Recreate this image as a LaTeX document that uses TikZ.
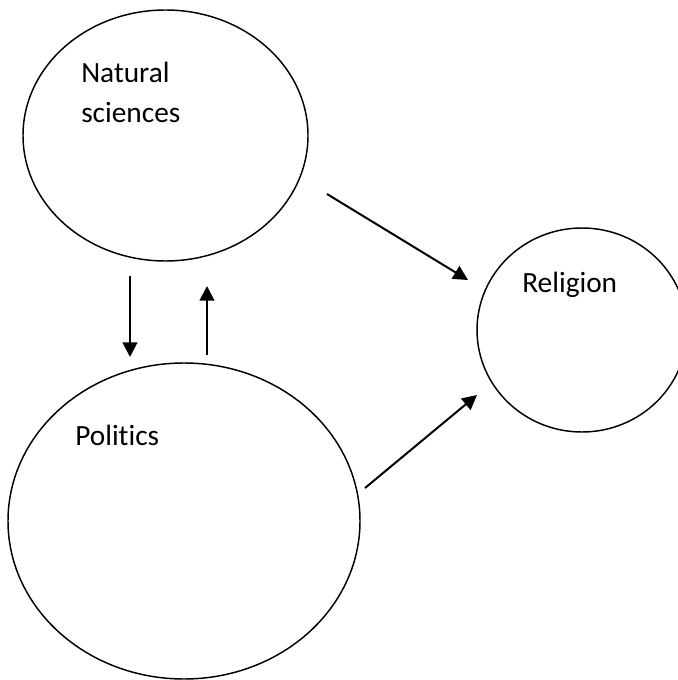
\documentclass[tikz,border=0pt]{standalone}
\usepackage{fontspec}
\setmainfont[Ligatures=CommonOff]{Carlito}
\usetikzlibrary{shapes.geometric, arrows.meta, positioning}

\tikzset{
    blob/.style={ellipse, draw, line width=1.1pt, inner sep=0pt},
    lbl/.style={anchor=base west, inner sep=0pt, align=left,
        font=\fontsize{22}{30}\selectfont},
    flow/.style={line width=1.5pt, -{Triangle[length=11pt, width=11pt]}}
}

\begin{document}
\begin{tikzpicture}[x=0.75pt, y=-0.75pt]
    \useasboundingbox (0,0) rectangle (677,680);

    \node[blob, minimum width=213.75pt, minimum height=188.25pt] (nat) at (165.5,135.5) {};
    \node[blob, minimum width=264pt, minimum height=237pt] (pol) at (184,521) {};
    \node[blob, minimum width=157.5pt, minimum height=153pt] (rel) at (582,330) {};

    % base of a two-line node is the last line
    \node[lbl] (natText) at (81,123) {Natural\\sciences};
    \node[lbl] (polText) at (75,445) {Politics};
    \node[lbl] (relText) at (522,293) {Religion};

    % arrow ends
    \coordinate (natOut) at (327,194);
    \coordinate (relInA) at (468,280);
    \coordinate (natDown) at (130,276);
    \coordinate (polTop) at (130,357);
    \coordinate (polUp) at (207,355);
    \coordinate (natBot) at (207,286);
    \coordinate (polOut) at (365,488);
    \coordinate (relInB) at (477,395);

    \draw [flow] (natOut) -- (relInA);
    \draw [flow] (natDown) -- (polTop);
    \draw [flow] (polUp) -- (natBot);
    \draw [flow] (polOut) -- (relInB);
\end{tikzpicture}
\end{document}
